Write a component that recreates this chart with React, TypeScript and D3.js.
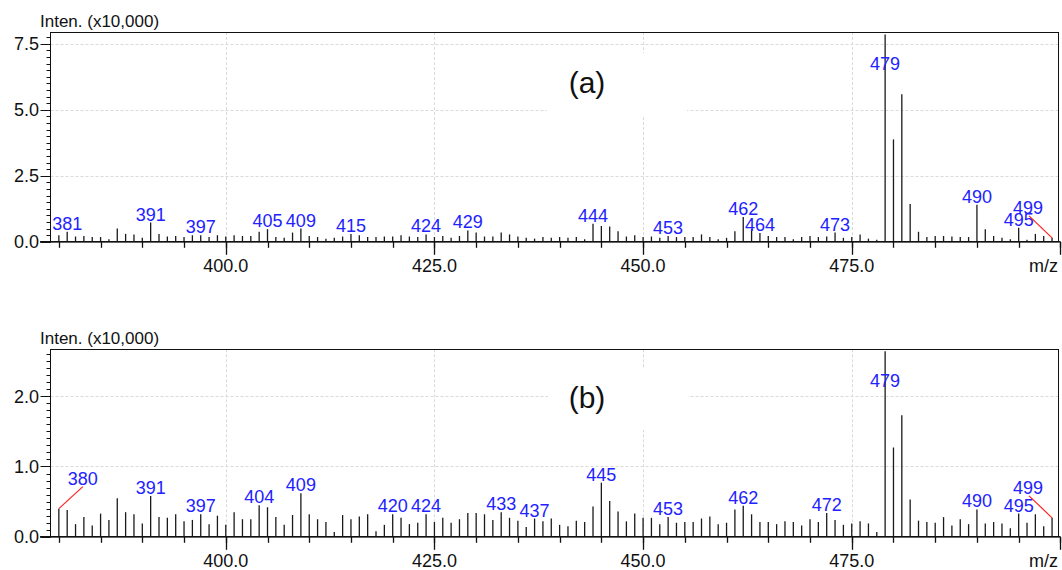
import React from "react";
import * as d3 from "d3";

// m/z categories (integer masses shown as sticks)
const mz = [380,381,382,383,384,385,386,387,388,389,390,391,392,393,394,395,396,397,398,399,400,401,402,403,404,405,406,407,408,409,410,411,412,413,414,415,416,417,418,419,420,421,422,423,424,425,426,427,428,429,430,431,432,433,434,435,436,437,438,439,440,441,442,443,444,445,446,447,448,449,450,451,452,453,454,455,456,457,458,459,460,461,462,463,464,465,466,467,468,469,470,471,472,473,474,475,476,477,478,479,480,481,482,483,484,485,486,487,488,489,490,491,492,493,494,495,496,497,498,499];

// intensities (x10,000), spectrum (a)
const intensityA = [0.25,0.38,0.2,0.22,0.18,0.18,0.1,0.5,0.3,0.28,0.15,0.73,0.3,0.2,0.22,0.18,0.25,0.25,0.18,0.25,0.2,0.25,0.22,0.22,0.38,0.48,0.18,0.15,0.35,0.5,0.22,0.18,0.12,0.15,0.2,0.3,0.25,0.18,0.18,0.2,0.2,0.25,0.2,0.18,0.28,0.18,0.22,0.15,0.22,0.43,0.35,0.2,0.2,0.35,0.28,0.2,0.15,0.12,0.18,0.15,0.18,0.15,0.18,0.1,0.68,0.6,0.58,0.4,0.2,0.25,0.18,0.2,0.15,0.22,0.18,0.18,0.18,0.28,0.18,0.1,0.15,0.4,0.94,0.48,0.33,0.22,0.18,0.18,0.1,0.18,0.22,0.18,0.2,0.35,0.15,0.18,0.28,0.12,0.08,7.86,3.88,5.59,1.43,0.38,0.18,0.22,0.22,0.2,0.18,0.18,1.4,0.48,0.22,0.15,0.1,0.53,0.08,0.3,0.22,0.15];

// intensities (x10,000), spectrum (b)
const intensityB = [0.4,0.38,0.18,0.28,0.16,0.33,0.24,0.55,0.35,0.32,0.19,0.58,0.28,0.27,0.32,0.22,0.24,0.32,0.18,0.3,0.17,0.35,0.25,0.25,0.45,0.42,0.28,0.17,0.31,0.62,0.32,0.25,0.21,0.07,0.31,0.25,0.29,0.32,0.08,0.17,0.32,0.27,0.18,0.2,0.32,0.21,0.27,0.2,0.25,0.34,0.34,0.32,0.24,0.35,0.27,0.23,0.14,0.26,0.22,0.26,0.17,0.15,0.23,0.21,0.43,0.77,0.51,0.36,0.22,0.33,0.27,0.27,0.18,0.28,0.2,0.21,0.21,0.26,0.29,0.18,0.2,0.39,0.44,0.32,0.21,0.21,0.18,0.22,0.21,0.16,0.25,0.21,0.34,0.24,0.17,0.19,0.22,0.19,0.07,2.64,1.27,1.73,0.53,0.23,0.21,0.2,0.28,0.16,0.25,0.18,0.39,0.19,0.21,0.19,0.12,0.33,0.2,0.32,0.15,0.27];

// peak labels
const labelsA = [381,391,397,405,409,415,424,429,444,453,462,464,473,479,490,495,499];
const labelsB = [380,391,397,404,409,420,424,433,437,445,453,462,472,479,490,495,499];
// labels moved aside with a red leader line: [mz, direction]
const leadersA = [[499, -1]];
const leadersB = [[380, 1], [499, -1]];

const yTicksA = [0, 2.5, 5.0, 7.5];
const yTicksB = [0, 1.0, 2.0];
const xMajor = [400, 425, 450, 475, 500];
const xLabels = [400, 425, 450, 475];

const FONT = "'Liberation Sans', Arial, Helvetica, sans-serif";
const BLUE = "#2222ff";

const x = d3.scaleLinear().domain([379, 500]).range([50.5, 1060.4]);
const xMinor = d3.range(380, 501, 5);
const FRAME_RIGHT = 1058.5;

type PanelProps = {
  top: number;
  base: number;
  yMax: number;
  values: number[];
  majors: number[];
  minorStep: number;
  labels: number[];
  leaders: number[][];
  tag: string;
  box: { x0: number; x1: number; y0: number; y1: number };
};

function Panel({ top, base, yMax, values, majors, minorStep, labels, leaders, tag, box }: PanelProps) {
  const y = d3.scaleLinear().domain([0, yMax]).range([base, top]);
  const minors = d3.range(0, yMax + 1e-9, minorStep);
  const fmt = d3.format(".1f");
  const leaderMap = new Map(leaders.map((d) => [d[0], d[1]]));
  const left = x.range()[0];
  return (
    <g>
      {/* grid */}
      {majors.filter((v) => v > 0).map((v) => (
        <line key={"gy" + v} x1={left} x2={FRAME_RIGHT} y1={Math.round(y(v)) + 0.5} y2={Math.round(y(v)) + 0.5}
          stroke="#dadada" strokeDasharray="3 2" />
      ))}
      {xLabels.map((v) => (
        <line key={"gx" + v} x1={Math.round(x(v)) + 0.5} x2={Math.round(x(v)) + 0.5} y1={top} y2={base}
          stroke="#dadada" strokeDasharray="3 2" />
      ))}
      {/* white box behind tag */}
      <rect x={box.x0} y={box.y0} width={box.x1 - box.x0} height={box.y1 - box.y0} fill="#fff" />
      <text x={587} y={box.y0 + 40} fontFamily={FONT} fontSize={30} textAnchor="middle" fill="#111">{tag}</text>
      {/* frame */}
      <rect x={left} y={Math.round(top) + 0.5} width={FRAME_RIGHT - left} height={base - Math.round(top) - 0.5}
        fill="none" stroke="#111" strokeWidth={1} />
      {/* sticks */}
      {mz.map((m, i) => (
        <line key={"s" + m} x1={x(m)} x2={x(m)} y1={base} y2={y(values[i])} stroke="#1a1a1a" strokeWidth={1.3} />
      ))}
      {/* axis lines */}
      <line x1={40} x2={x(500)} y1={base} y2={base} stroke="#111" strokeWidth={1.5} />
      {/* y ticks */}
      {minors.map((v) => (
        <line key={"ym" + v} x1={left - 4} x2={left} y1={Math.round(y(v)) + 0.5} y2={Math.round(y(v)) + 0.5} stroke="#111" />
      ))}
      {majors.map((v) => (
        <g key={"yM" + v}>
          <line x1={left - 10} x2={left} y1={Math.round(y(v)) + 0.5} y2={Math.round(y(v)) + 0.5} stroke="#111" />
          <text x={39} y={y(v) + 6.5} fontFamily={FONT} fontSize={18} textAnchor="end" fill="#111">{fmt(v)}</text>
        </g>
      ))}
      {/* x ticks */}
      {xMinor.map((v) => (
        <line key={"xm" + v} x1={Math.round(x(v)) + 0.5} x2={Math.round(x(v)) + 0.5} y1={base} y2={base + 6}
          stroke="#111" strokeWidth={1.3} />
      ))}
      {xMajor.map((v) => (
        <line key={"xM" + v} x1={Math.round(x(v)) + 0.5} x2={Math.round(x(v)) + 0.5} y1={base} y2={base + 13}
          stroke="#111" strokeWidth={1.3} />
      ))}
      {xLabels.map((v) => (
        <text key={"xl" + v} x={x(v)} y={base + 30.5} fontFamily={FONT} fontSize={18} textAnchor="middle" fill="#111">
          {fmt(v)}
        </text>
      ))}
      <text x={1058} y={base + 30.5} fontFamily={FONT} fontSize={18} textAnchor="end" fill="#111">m/z</text>
      <text x={40} y={top - 5} fontFamily={FONT} fontSize={17} fill="#111">Inten. (x10,000)</text>
      {/* peak labels */}
      {labels.map((m) => {
        const i = mz.indexOf(m);
        const sx = x(m);
        const sy = y(values[i]);
        const dir = leaderMap.get(m);
        if (dir !== undefined) {
          const lx = sx + dir * 24;
          const ly = sy - 24;
          return (
            <g key={"l" + m}>
              <line x1={lx + (dir > 0 ? 0 : 1)} y1={ly + 2} x2={sx} y2={sy} stroke="#ff2020" strokeWidth={1.2} />
              <text x={lx} y={ly} fontFamily={FONT} fontSize={18} textAnchor="middle" fill={BLUE}>{m}</text>
            </g>
          );
        }
        let ty = sy - 2;
        if (ty - 14 < top) ty = top + 38;
        return (
          <text key={"l" + m} x={sx} y={ty} fontFamily={FONT} fontSize={18} textAnchor="middle" fill={BLUE}>{m}</text>
        );
      })}
    </g>
  );
}

export default function App() {
  return (
    <svg width={1062} height={570} style={{ position: "absolute", left: 0, top: 0, background: "#fff" }}>
      <rect width={1062} height={570} fill="#fff" />
      <Panel top={32} base={241.8} yMax={7.95} values={intensityA} majors={yTicksA} minorStep={0.25}
        labels={labelsA} leaders={leadersA} tag="(a)" box={{ x0: 547, x1: 687, y0: 53, y1: 115 }} />
      <Panel top={349.3} base={536.8} yMax={2.667} values={intensityB} majors={yTicksB} minorStep={0.1}
        labels={labelsB} leaders={leadersB} tag="(b)" box={{ x0: 548, x1: 688, y0: 368, y1: 430 }} />
    </svg>
  );
}
